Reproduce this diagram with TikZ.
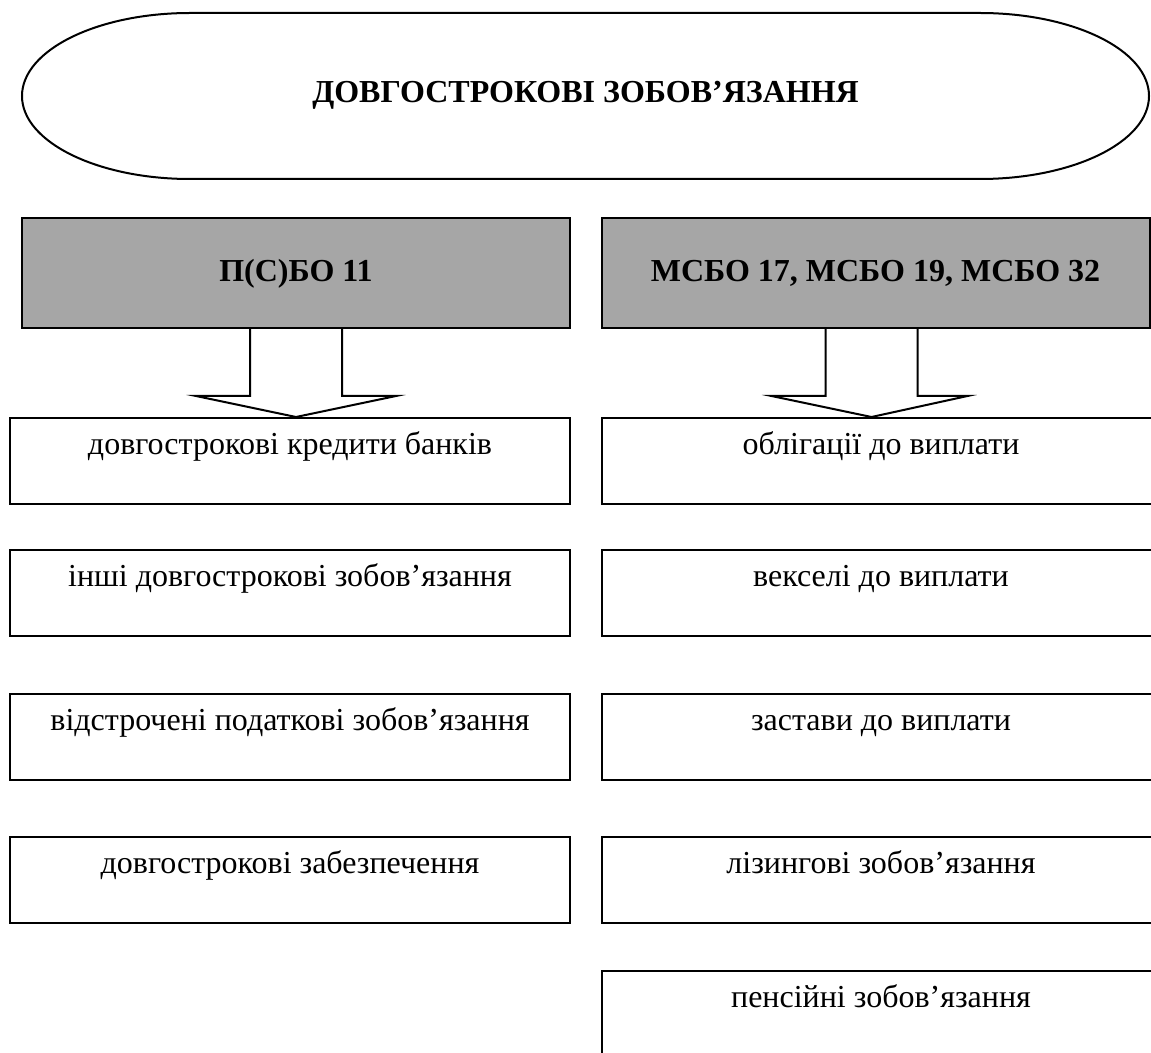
\documentclass[tikz,border=0pt]{standalone}
\usepackage{fontspec}
\setmainfont{Liberation Serif}
\usetikzlibrary{calc}
\definecolor{headgray}{RGB}{166,166,166}
\begin{document}
\begin{tikzpicture}[x=0.5pt,y=-0.5pt,
  every node/.style={inner sep=0pt, font=\fontsize{16}{19}\selectfont},
  outline/.style={draw=black, line width=1pt},
  headbox/.style={outline, fill=headgray, font=\fontsize{16}{19}\selectfont\bfseries,
    minimum width=274pt, text height=32pt, text depth=23pt, anchor=north},
  itembox/.style={outline, fill=white, text height=18pt, text depth=25pt, anchor=north},
  leftitem/.style={itembox, minimum width=280pt},
  rightitem/.style={itembox, minimum width=279pt},
  blockarrow/.style={outline, line join=miter}]
\useasboundingbox (0,0) rectangle (1151,1053);
\clip (0,0) rectangle (1151,1053);

% title shape: straight top and bottom with half-ellipse ends
\node[font=\fontsize{16}{19}\selectfont\bfseries, anchor=base] (title) at (585.5,103) {ДОВГОСТРОКОВІ ЗОБОВ’ЯЗАННЯ};
\draw[outline] (190,13) -- (980,13)
  arc[start angle=-90, end angle=90, x radius=169, y radius=83]
  -- (190,179)
  arc[start angle=90, end angle=270, x radius=168, y radius=83] -- cycle;

% standards
\node[headbox] (psbo) at (296,217) {П(С)БО 11};
\node[headbox] (msbo) at (875.5,217) {МСБО 17, МСБО 19, МСБО 32};

% left column
\node[leftitem] (l1) at (290,417) {довгострокові кредити банків};
\node[leftitem] (l2) at (290,549) {інші довгострокові зобов’язання};
\node[leftitem] (l3) at (290,693) {відстрочені податкові зобов’язання};
\node[leftitem] (l4) at (290,836) {довгострокові забезпечення};

% right column
\node[rightitem] (r1) at (881,417) {облігації до виплати};
\node[rightitem] (r2) at (881,549) {векселі до виплати};
\node[rightitem] (r3) at (881,693) {застави до виплати};
\node[rightitem] (r4) at (881,836) {лізингові зобов’язання};
\node[rightitem] (r5) at (881,970) {пенсійні зобов’язання};

% block arrows
\draw[blockarrow] ($(psbo.south)+(-46,0)$) -- ++(0,67) -- ++(-54,0)
  -- (psbo.south |- l1.north) -- ($(psbo.south)+(100,67)$) -- ++(-54,0) -- ++(0,-67);
\draw[blockarrow] ($(msbo.south)+(-50,0)$) -- ++(0,67) -- ++(-54,0)
  -- ($(msbo.south |- r1.north)+(-4,0)$) -- ($(msbo.south)+(92,67)$) -- ++(-50,0) -- ++(0,-67);
\end{tikzpicture}
\end{document}
